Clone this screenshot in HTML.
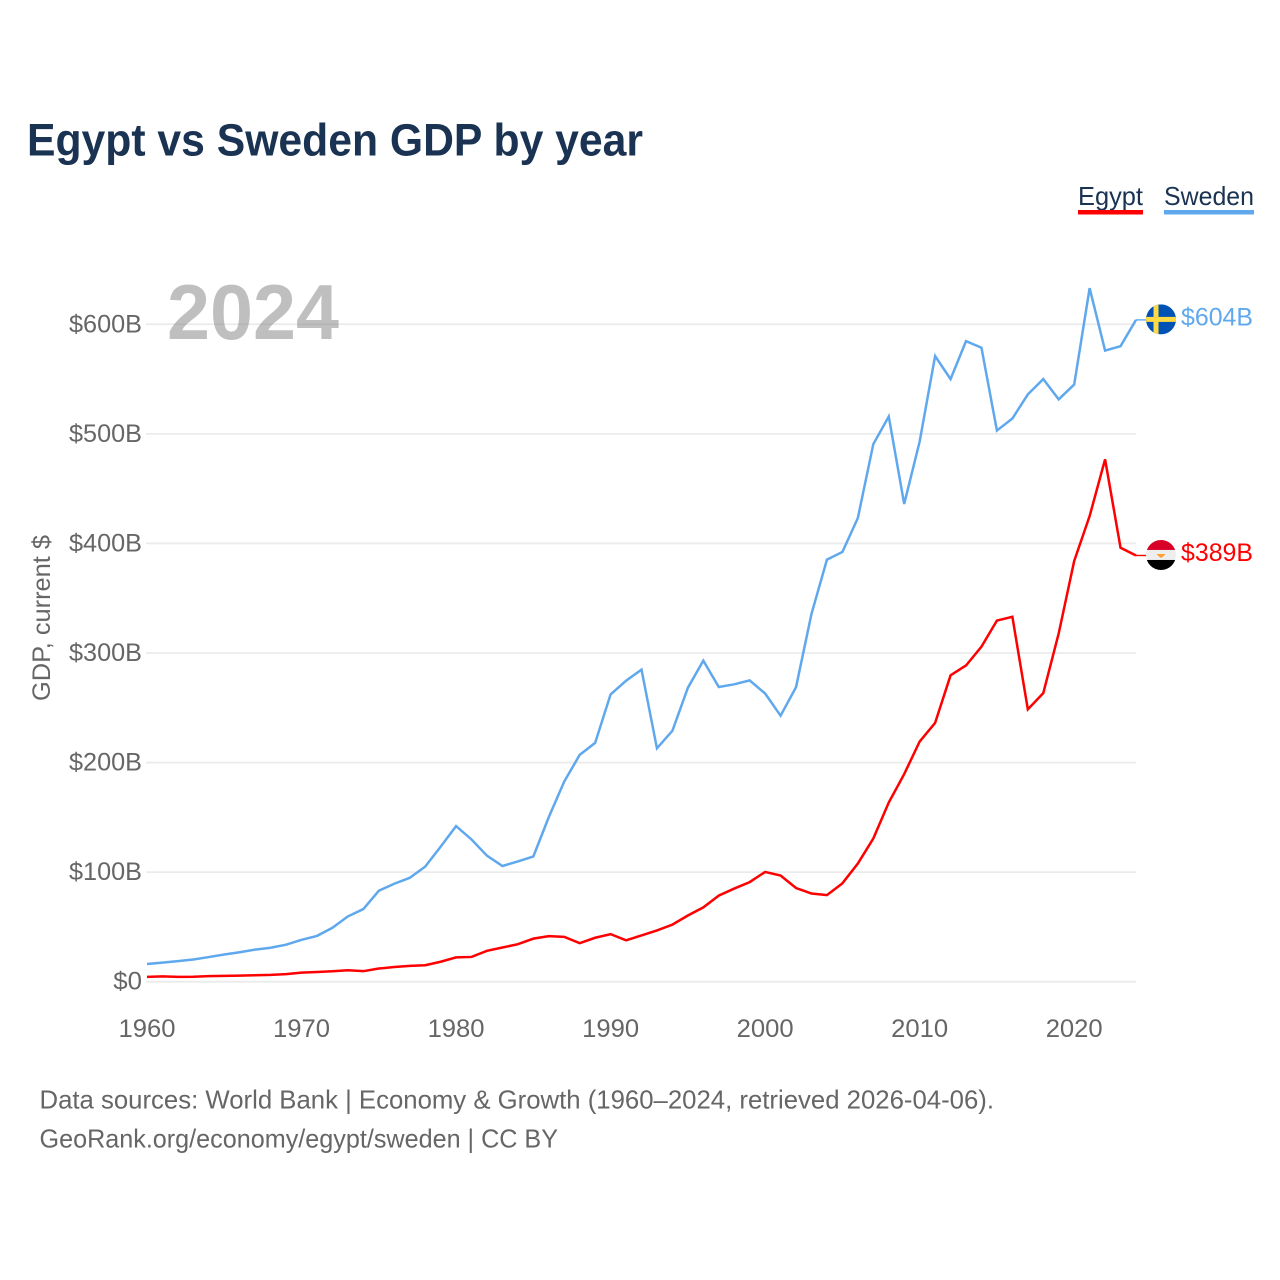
<!DOCTYPE html>
<html lang="en">
<head>
<meta charset="utf-8">
<title>Egypt vs Sweden GDP by year</title>
<style>
  html, body { margin: 0; padding: 0; background: #fff; }
  svg { display: block; font-family: "Liberation Sans", sans-serif; }
</style>
</head>
<body>
<svg id="chart" xmlns="http://www.w3.org/2000/svg" width="1280" height="1280" viewBox="0 0 1280 1280">
  <rect width="1280" height="1280" fill="#fff"/>
  <text x="27" y="155.5" font-size="45" font-weight="700" fill="#1a3352" textLength="616" lengthAdjust="spacingAndGlyphs">Egypt vs Sweden GDP by year</text>
  <g>
    <g>
      <text x="1078" y="205" font-size="26" fill="#1a3352" textLength="65" lengthAdjust="spacingAndGlyphs">Egypt</text>
      <rect x="1078" y="210" width="65" height="4.5" fill="#ff0000"/>
    </g>
    <g>
      <text x="1164" y="205" font-size="26" fill="#1a3352" textLength="90" lengthAdjust="spacingAndGlyphs">Sweden</text>
      <rect x="1164" y="210" width="90" height="4.5" fill="#5fa8ee"/>
    </g>
  </g>
  <g id="grid"></g>
  <text x="167" y="339" font-size="78" font-weight="700" fill="#808080" fill-opacity="0.5" textLength="172" lengthAdjust="spacingAndGlyphs">2024</text>
  <g id="y-ticks"></g>
  <g id="x-ticks"></g>
  <text transform="translate(50 701) rotate(-90)" font-size="25" fill="#666" textLength="166" lengthAdjust="spacingAndGlyphs">GDP, current $</text>
  <g id="series"></g>
  <defs>
    <clipPath id="flag-clip-sweden"><circle id="clip-circle-sweden" r="15"/></clipPath>
    <clipPath id="flag-clip-egypt"><circle id="clip-circle-egypt" r="15"/></clipPath>
  </defs>
  <g id="flag-sweden" clip-path="url(#flag-clip-sweden)">
    <rect x="-15" y="-15" width="30" height="30" fill="#0052b4"/>
    <rect x="-7.5" y="-15" width="5" height="30" fill="#ffda44"/>
    <rect x="-15" y="-2.5" width="30" height="5" fill="#ffda44"/>
  </g>
  <g id="flag-egypt" clip-path="url(#flag-clip-egypt)">
    <rect x="-15" y="-15" width="30" height="10" fill="#d80027"/>
    <rect x="-15" y="-5" width="30" height="10" fill="#eeeeee"/>
    <rect x="-15" y="5" width="30" height="10" fill="#000000"/>
    <path d="M-4.5 -1 L4.5 -1 L1.5 2 L0 3 L-1.5 2 Z" fill="#ff9f2e"/>
  </g>
  <g id="end-labels"></g>
  <g>
    <text x="39.5" y="1108.5" font-size="26" fill="#666" textLength="954.5" lengthAdjust="spacingAndGlyphs">Data sources: World Bank | Economy &amp; Growth (1960–2024, retrieved 2026-04-06).</text>
    <text x="39.5" y="1147.5" font-size="26" fill="#666" textLength="518.5" lengthAdjust="spacingAndGlyphs">GeoRank.org/economy/egypt/sweden | CC BY</text>
  </g>
</svg>
<script>
const startYear = 1960;
const yTickValues = [0, 100, 200, 300, 400, 500, 600];
const yTickLabels = ["$0", "$100B", "$200B", "$300B", "$400B", "$500B", "$600B"];
const xTickYears = [1960, 1970, 1980, 1990, 2000, 2010, 2020];
const xTickLabels = ["1960", "1970", "1980", "1990", "2000", "2010", "2020"];
const egyptValues = [4.4, 4.9, 4.4, 4.5, 5.1, 5.3, 5.5, 5.9, 6.2, 6.9, 8.3, 8.9, 9.5, 10.4, 9.6, 12.0, 13.4, 14.4, 15.0, 18.2, 22.2, 22.6, 28.2, 31.2, 34.2, 39.3, 41.6, 40.9, 35.2, 40.1, 43.4, 37.8, 42.2, 46.8, 52.1, 60.4, 67.8, 78.6, 85.0, 90.9, 100.2, 96.9, 85.5, 80.5, 79.0, 89.8, 107.8, 130.7, 163.5, 189.5, 219.2, 236.2, 279.6, 288.6, 305.8, 329.6, 333.0, 248.6, 263.4, 318.0, 384.0, 425.0, 476.7, 396.0, 389];
const swedenValues = [16.2, 17.4, 18.8, 20.3, 22.5, 24.8, 26.9, 29.3, 31.0, 33.8, 38.2, 41.8, 49.2, 59.6, 66.3, 83.0, 89.4, 94.8, 105.0, 123.2, 142.0, 129.8, 115.0, 105.6, 109.8, 114.3, 150.2, 182.7, 207.0, 218.0, 262.2, 274.7, 284.8, 213.0, 229.0, 268.2, 293.0, 269.0, 271.4, 275.0, 263.0, 242.8, 268.8, 335.7, 385.2, 392.2, 423.2, 490.6, 515.8, 436.0, 493.0, 571.0, 550.0, 584.6, 578.6, 503.0, 514.0, 536.0, 550.0, 531.5, 545.0, 633.0, 576.0, 580.0, 604];

const svgNS = "http://www.w3.org/2000/svg";
const plotLeft = 147, plotRight = 1136, plotBottom = 981.7, unitPerHundred = 109.57;
const lastIndex = swedenValues.length - 1;
const xScale = function (year) { return plotLeft + (year - startYear) * (plotRight - plotLeft) / 64; };
const yScale = function (value) { return plotBottom - value * unitPerHundred / 100; };
const approxCharWidth = function (str) {
  let w = 0;
  for (const c of str) { w += c === "B" ? 0.62 : 0.575; }
  return w;
};
const make = function (tag) { return document.createElementNS(svgNS, tag); };

const gridLayer = document.getElementById("grid");
const yTickLayer = document.getElementById("y-ticks");
yTickValues.forEach(function (v, i) {
  const line = make("line");
  
  
  line.setAttribute("x1", plotLeft - 1);
  line.setAttribute("x2", plotRight);
  line.setAttribute("y1", yScale(v));
  line.setAttribute("y2", yScale(v));
  line.setAttribute("stroke", "#ebebeb");
  line.setAttribute("stroke-width", "1.8");
  gridLayer.appendChild(line);

  const label = make("text");
  
  
  label.setAttribute("x", 142);
  label.setAttribute("y", yScale(v) + 8);
  label.setAttribute("text-anchor", "end");
  label.setAttribute("font-size", "25");
  label.setAttribute("fill", "#666");
  label.setAttribute("textLength", (approxCharWidth(yTickLabels[i]) * 25).toFixed(1));
  label.setAttribute("lengthAdjust", "spacingAndGlyphs");
  label.textContent = yTickLabels[i];
  yTickLayer.appendChild(label);
});

const xTickLayer = document.getElementById("x-ticks");
xTickYears.forEach(function (year, i) {
  const label = make("text");
  
  
  label.setAttribute("x", xScale(year));
  label.setAttribute("y", 1037);
  label.setAttribute("text-anchor", "middle");
  label.setAttribute("font-size", "25");
  label.setAttribute("fill", "#666");
  label.setAttribute("textLength", "57");
  label.setAttribute("lengthAdjust", "spacingAndGlyphs");
  label.textContent = xTickLabels[i];
  xTickLayer.appendChild(label);
});

const seriesLayer = document.getElementById("series");
const labelLayer = document.getElementById("end-labels");
const drawSeries = function (values, color, seriesKey, lineName, connectorName, labelName) {
  const pts = values.map(function (v, i) {
    return xScale(startYear + i).toFixed(2) + "," + yScale(v).toFixed(2);
  }).join(" ");
  const poly = make("polyline");
  
  
  poly.setAttribute("points", pts);
  poly.setAttribute("fill", "none");
  poly.setAttribute("stroke", color);
  poly.setAttribute("stroke-width", "2.5");
  poly.setAttribute("stroke-linejoin", "miter");
  seriesLayer.appendChild(poly);

  const endValue = values[lastIndex];
  const endX = xScale(startYear + lastIndex);
  const endY = yScale(endValue);

  const connector = make("line");
  
  
  connector.setAttribute("x1", endX);
  connector.setAttribute("x2", endX + 12);
  connector.setAttribute("y1", endY);
  connector.setAttribute("y2", endY);
  connector.setAttribute("stroke", color);
  connector.setAttribute("stroke-width", "1.4");
  seriesLayer.appendChild(connector);

  const flagX = endX + 25;
  const flagY = endY - 0.5;
  document.getElementById("flag-" + seriesKey).setAttribute("transform", "translate(" + flagX + " " + flagY + ")");
  const clip = document.getElementById("clip-circle-" + seriesKey);
  clip.setAttribute("cx", 0);
  clip.setAttribute("cy", 0);

  const label = make("text");
  
  
  label.setAttribute("x", 1181);
  label.setAttribute("y", endY + 5.5);
  label.setAttribute("font-size", "25");
  label.setAttribute("fill", color);
  label.setAttribute("textLength", "72");
  label.setAttribute("lengthAdjust", "spacingAndGlyphs");
  label.textContent = "$" + Math.round(endValue) + "B";
  labelLayer.appendChild(label);
};
drawSeries(swedenValues, "#5fa8ee", "sweden", "line-sweden", "connector-sweden", "end-label-sweden");
drawSeries(egyptValues, "#ff0000", "egypt", "line-egypt", "connector-egypt", "end-label-egypt");
</script>
</body>
</html>
